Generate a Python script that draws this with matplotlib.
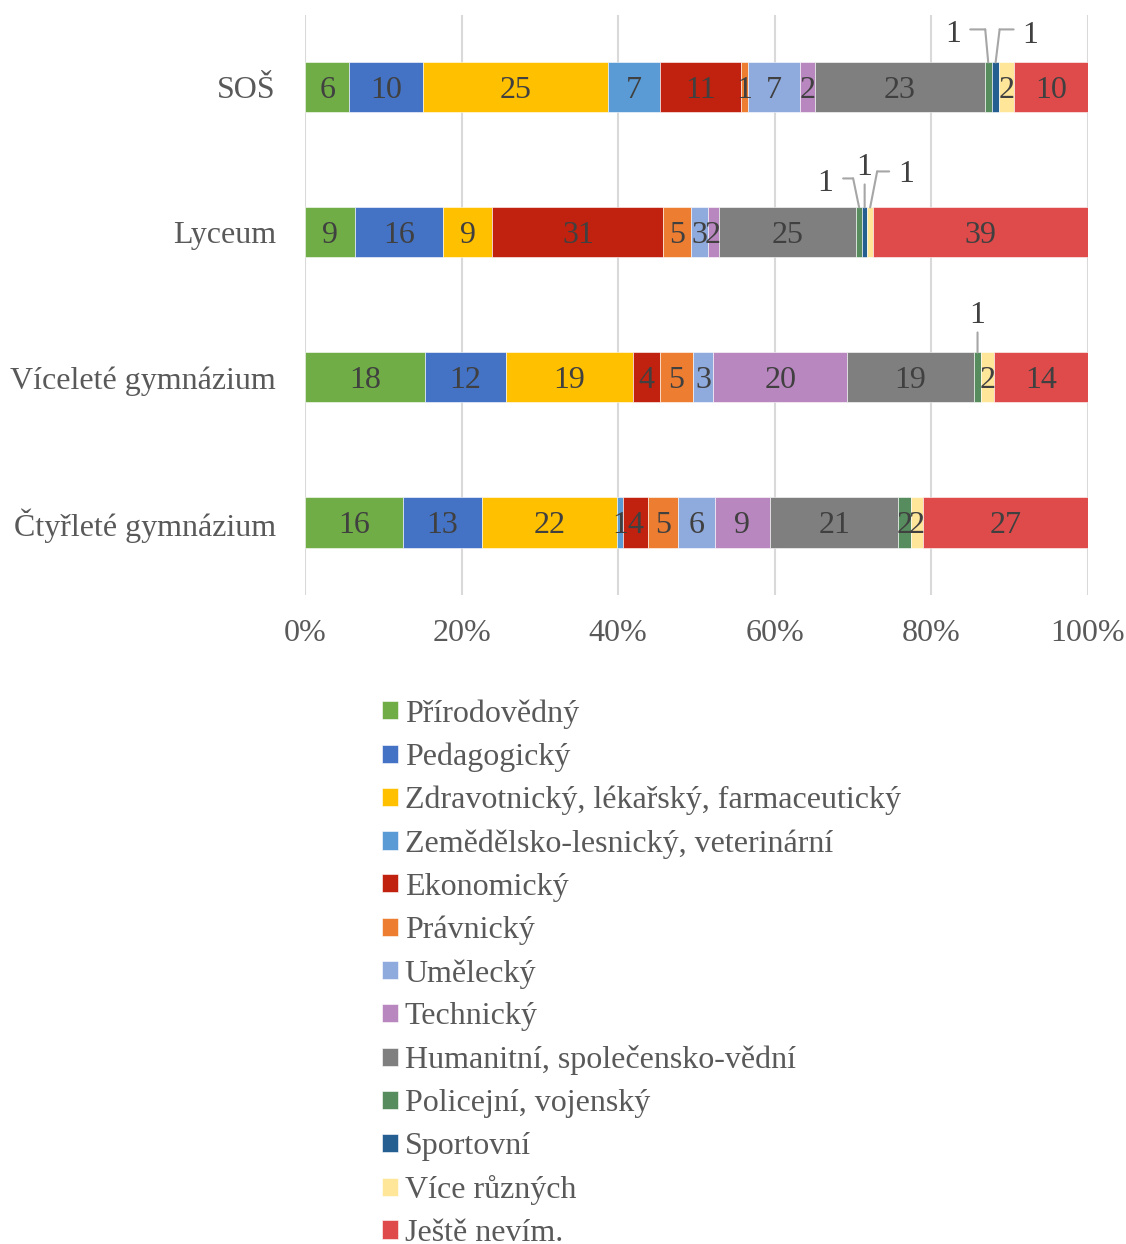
import matplotlib.pyplot as plt
from matplotlib.transforms import offset_copy
import numpy as np

plt.rcParams['font.family'] = ['Liberation Serif', 'DejaVu Serif']

# Data (bottom to top)
schools = ['Čtyřleté gymnázium', 'Víceleté gymnázium', 'Lyceum', 'SOŠ']

series_names = ['Přírodovědný', 'Pedagogický', 'Zdravotnický, lékařský, farmaceutický',
                'Zemědělsko-lesnický, veterinární', 'Ekonomický', 'Právnický', 'Umělecký',
                'Technický', 'Humanitní, společensko-vědní', 'Policejní, vojenský',
                'Sportovní', 'Více různých', 'Ještě nevím.']

prirodovedny = [16, 18, 9, 6]
pedagogicky = [13, 12, 16, 10]
zdravotnicky = [22, 19, 9, 25]
zemedelsky = [1, 0, 0, 7]
ekonomicky = [4, 4, 31, 11]
pravnicky = [5, 5, 5, 1]
umelecky = [6, 3, 3, 7]
technicky = [9, 20, 2, 2]
humanitni = [21, 19, 25, 23]
policejni = [2, 1, 1, 1]
sportovni = [0, 0, 1, 1]
vice = [2, 2, 1, 2]
nevim = [27, 14, 39, 10]

colors = ['#70AD47', '#4472C4', '#FFC000', '#5B9BD5', '#C1220F', '#ED7D31', '#8FAADC',
          '#B987C0', '#7F7F7F', '#578C5E', '#255E91', '#FFE699', '#DF4A4A']

# labels drawn above the bar with a leader line, offsets in px from the bar top:
# (school, series) -> (text offset, corner offset, horizontal end offset)
leaders = {
    (3, 9): ((-35, 31), (-3, 33), (-18, 33)),
    (3, 10): ((35, 30), (4, 33), (18, 33)),
    (2, 9): ((-34, 27), (-6, 29), (-16, 29)),
    (2, 10): ((0, 43), (0, 23), (0, 23)),
    (2, 11): ((36, 36), (7, 36), (19, 36)),
    (1, 9): ((0, 40), (0, 20), (0, 20)),
}

values = np.array([prirodovedny, pedagogicky, zdravotnicky, zemedelsky, ekonomicky,
                   pravnicky, umelecky, technicky, humanitni, policejni, sportovni,
                   vice, nevim], dtype=float)
totals = values.sum(axis=0)
pct = values / totals

fig = plt.figure(figsize=(11.26, 12.44), dpi=100)
ax = fig.add_axes([0.2709, 0.5217, 0.6953, 0.4663])

fs = 23
px = 0.72  # points per pixel
y = np.arange(len(schools))
h = 0.345
left = np.zeros(len(schools))
for i, name in enumerate(series_names):
    ax.barh(y, pct[i], left=left, height=h, color=colors[i], label=name,
            edgecolor='white', linewidth=0.4, zorder=3)
    for j in range(len(schools)):
        v = values[i, j]
        if v == 0:
            continue
        cx = left[j] + pct[i, j] / 2
        if (j, i) in leaders:
            (tx, ty), (kx, ky), (ex, ey) = leaders[(j, i)]
            top = y[j] + h / 2
            ax.annotate(f'{int(v)}', xy=(cx, top), xytext=(tx * px, ty * px),
                        textcoords='offset points', ha='center', va='center_baseline',
                        fontsize=fs, color='#404040')
            # bar top -> corner
            ax.annotate('', xy=(cx, top), xytext=(kx * px, ky * px),
                        textcoords='offset points',
                        arrowprops=dict(arrowstyle='-', color='#A6A6A6', lw=1.5,
                                        shrinkA=0, shrinkB=0))
            # corner -> horizontal end
            if (kx, ky) != (ex, ey):
                corner = offset_copy(ax.transData, fig=fig, x=kx * px, y=ky * px,
                                     units='points')
                ax.annotate('', xy=(cx, top), xycoords=corner,
                            xytext=((ex - kx) * px, (ey - ky) * px),
                            textcoords='offset points',
                            arrowprops=dict(arrowstyle='-', color='#A6A6A6', lw=1.5,
                                            shrinkA=0, shrinkB=0))
        else:
            ax.text(cx, y[j], f'{int(v)}', ha='center', va='center_baseline',
                    fontsize=fs, color='#404040', zorder=4)
    left += pct[i]

ax.set_xlim(0, 1)
ax.set_ylim(-0.5, 3.5)
ax.set_xticks(np.linspace(0, 1, 6))
ax.set_xticklabels([f'{int(t)}%' for t in np.linspace(0, 100, 6)])
ax.set_yticks(y)
ax.set_yticklabels(schools)
ax.tick_params(axis='both', length=0, labelsize=fs, colors='#595959')
ax.tick_params(axis='x', pad=17)
ax.tick_params(axis='y', pad=21)
ax.grid(axis='x', color='#D9D9D9', linewidth=1.5, zorder=0)
for s in ax.spines.values():
    s.set_visible(False)

fig.legend(loc='upper left', bbox_to_anchor=(0.339, 0.438), frameon=False,
           fontsize=fs, labelcolor='#595959', handlelength=0.5, handleheight=0.5,
           handletextpad=0.22, labelspacing=0.435, borderaxespad=0, borderpad=0)

fig.savefig('out.png', dpi=100)
